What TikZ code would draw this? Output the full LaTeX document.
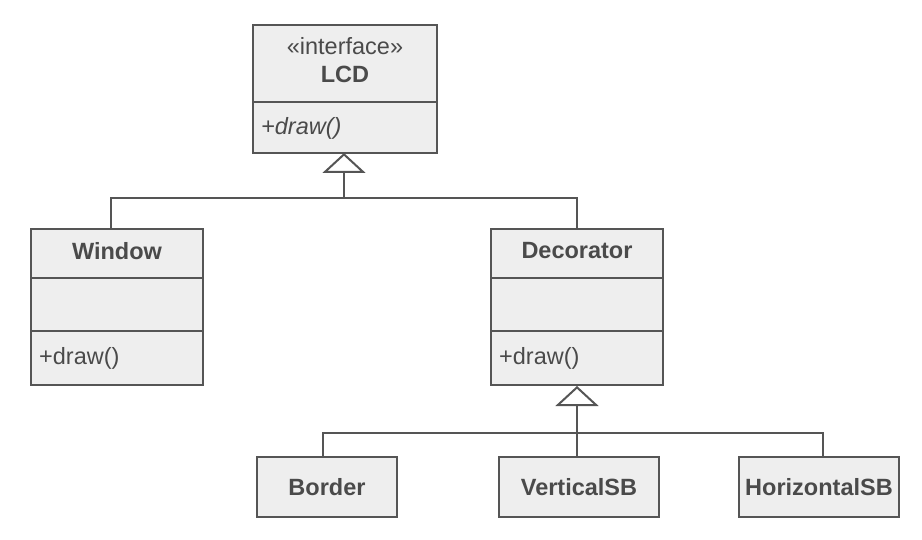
\documentclass[tikz,border=0pt]{standalone}
\usepackage{fontspec}
\setmainfont{Liberation Sans}
\usetikzlibrary{arrows.meta}
\definecolor{umlline}{HTML}{555555}
\definecolor{umlfill}{HTML}{EEEEEE}
\definecolor{umltext}{HTML}{4A4A4A}
\tikzset{
  umlbox/.style={draw=umlline, fill=umlfill, line width=2pt, inner sep=0pt},
  lbl/.style={text=umltext, inner sep=0pt, font=\fontsize{23.5}{27}\selectfont},
  blbl/.style={lbl, font=\fontsize{23.5}{27}\selectfont\bfseries},
  conn/.style={draw=umlline, line width=2pt},
  inh/.style={conn, -{Triangle[open, length=20pt, width=43pt, line join=miter]}},
}
\begin{document}
\begin{tikzpicture}[x=1pt,y=-1pt]
\useasboundingbox (0,0) rectangle (922,540);
% LCD
\node[umlbox, minimum width=184pt, minimum height=128pt] (lcd) at (345,89) {};
\draw[conn] (253,102) -- (437,102);
\node[lbl] (lcdst) at (345,46) {«interface»};
\node[blbl] (lcdname) at (345,74) {LCD};
\node[lbl, font=\fontsize{23.5}{27}\selectfont\itshape, anchor=west] (lcdop) at (261,128) {+draw()};
% Window
\node[umlbox, minimum width=172pt, minimum height=156pt] (win) at (117,307) {};
\draw[conn] (31,278) -- (203,278);
\draw[conn] (31,331.5) -- (203,331.5);
\node[blbl] (winname) at (117,251) {Window};
\node[lbl, anchor=west] (winop) at (39,358) {+draw()};
% Decorator
\node[umlbox, minimum width=172pt, minimum height=156pt] (dec) at (577,307) {};
\draw[conn] (491,278) -- (663,278);
\draw[conn] (491,331.5) -- (663,331.5);
\node[blbl] (decname) at (577,251) {Decorator};
\node[lbl, anchor=west] (decop) at (499,358) {+draw()};
% bottom classes
\node[umlbox, minimum width=140pt, minimum height=60pt] (border) at (327,487) {};
\node[blbl] (bordername) at (327,487) {Border};
\node[umlbox, minimum width=160pt, minimum height=60pt] (vsb) at (579,487) {};
\node[blbl] (vsbname) at (579,487) {VerticalSB};
\node[umlbox, minimum width=160pt, minimum height=60pt] (hsb) at (819,487) {};
\node[blbl] (hsbname) at (819,487) {HorizontalSB};
% connectors
\coordinate (j1) at (344,198.5);
\coordinate (wtop) at (111,229);
\coordinate (dtop) at (577,229);
\draw[conn] (wtop) |- (j1) -| (dtop);
\draw[inh] (j1) -- (344,153);
\coordinate (j2) at (577,433);
\coordinate (btop) at (323,457);
\coordinate (htop) at (823,457);
\draw[conn] (btop) |- (j2) -| (htop);
\draw[conn] (vsb.north -| j2) -- (j2);
\draw[inh] (j2) -- (dec.south);
\end{tikzpicture}
\end{document}
